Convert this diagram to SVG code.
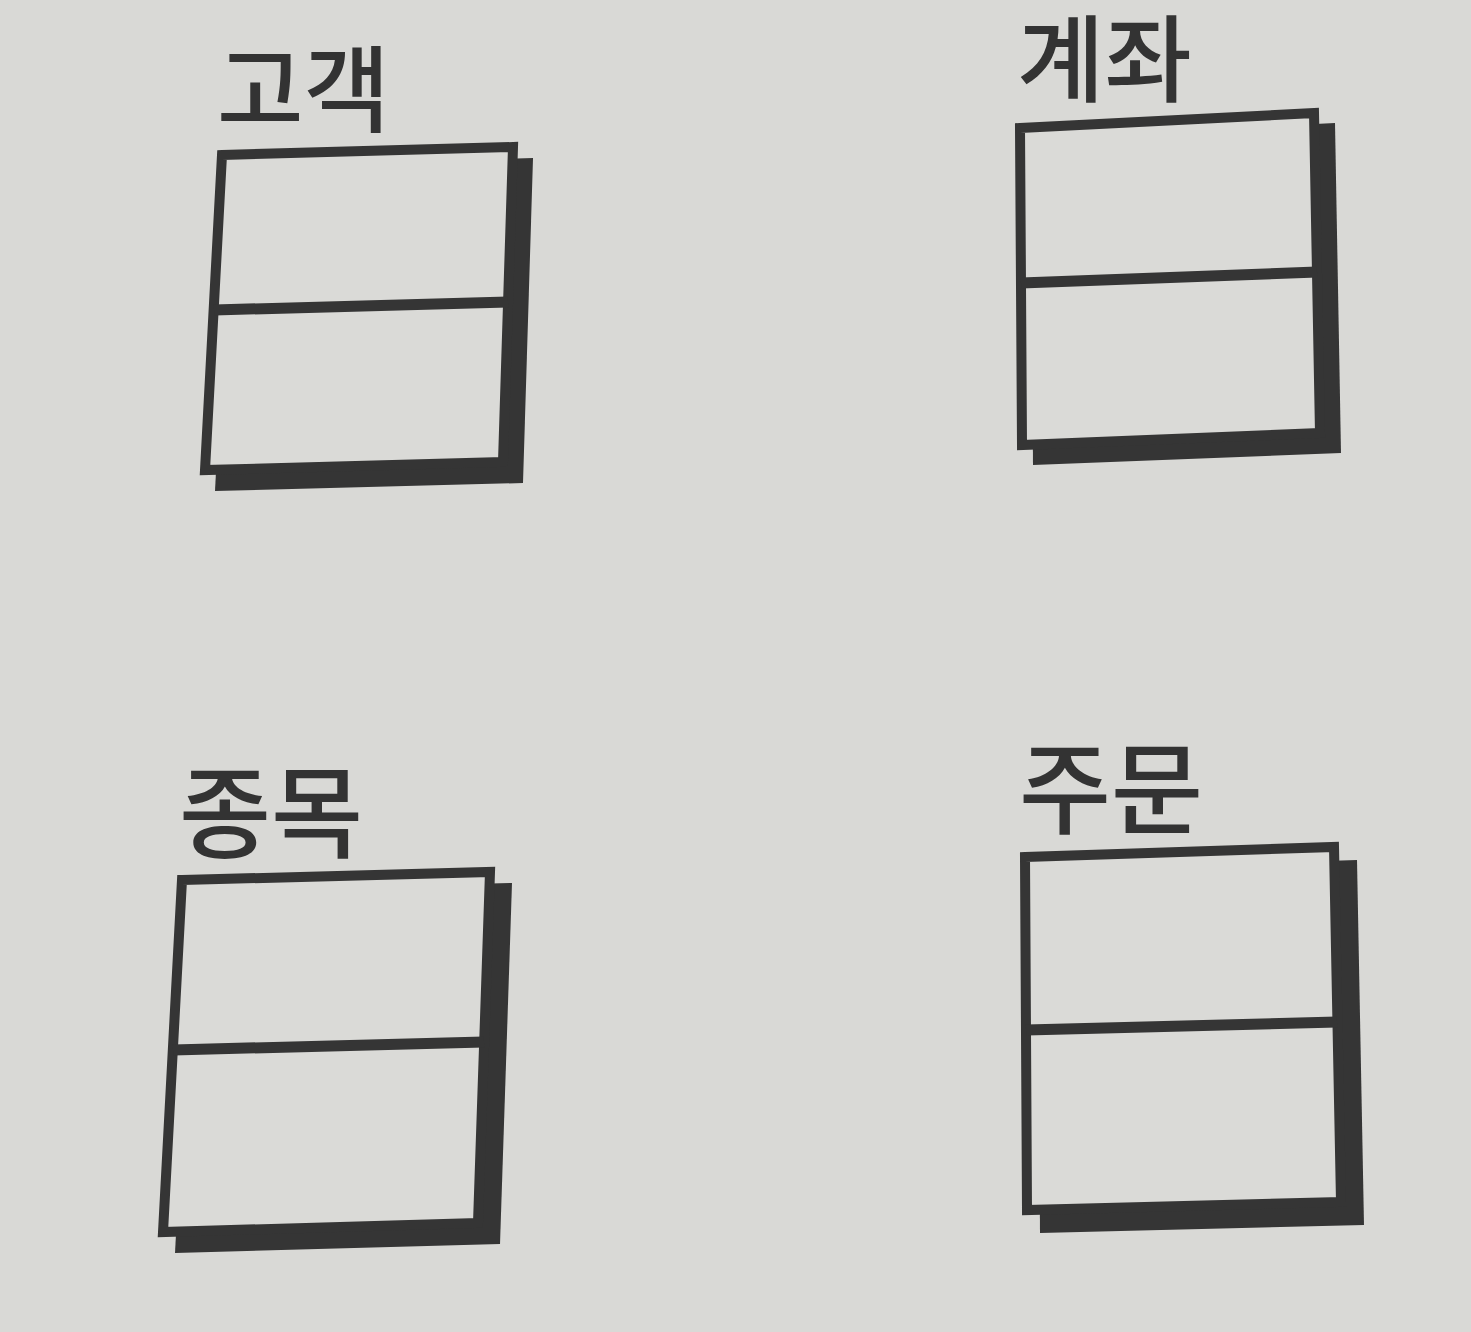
<svg xmlns="http://www.w3.org/2000/svg" width="1471" height="1332" viewBox="0 0 1471 1332">
  <style>
    .bg { fill: #d9d9d6; }
    .shadow { fill: #353535; }
    .box { fill: #dadad7; stroke: #353535; stroke-width: 10; stroke-linejoin: miter; }
    .div { stroke: #353535; stroke-width: 11; fill: none; }
    .label { font-family: "Noto Sans CJK KR", "Noto Sans", sans-serif; font-weight: 500; fill: #333333; }
  </style>
  <rect class="bg" x="0" y="0" width="1471" height="1332"/>

  <g id="node-customer">
    <polygon class="shadow" points="232,166 533,158 523,483 215,491"/>
    <polygon class="box" points="222,155 513,147 503,462 205,470"/>
    <line class="div" x1="214" y1="310" x2="508" y2="302"/>
    <text class="label" x="217" y="125" font-size="94">고객</text>
  </g>

  <g id="node-account">
    <polygon class="shadow" points="1031,138 1335,123 1341,453 1033,465"/>
    <polygon class="box" points="1020,128 1314,113 1320,433 1022,445"/>
    <line class="div" x1="1021" y1="283" x2="1317" y2="272"/>
    <text class="label" x="1017" y="95" font-size="95">계좌</text>
  </g>

  <g id="node-item">
    <polygon class="shadow" points="194,891 512,883 500,1244 175,1253"/>
    <polygon class="box" points="182,880 490,872 478,1223 163,1232"/>
    <line class="div" x1="173" y1="1050" x2="484" y2="1042"/>
    <text class="label" x="179" y="850" font-size="100">종목</text>
  </g>

  <g id="node-order">
    <polygon class="shadow" points="1038,870 1357,860 1364,1225 1040,1233"/>
    <polygon class="box" points="1025,857 1334,847 1341,1202 1027,1210"/>
    <line class="div" x1="1026" y1="1030" x2="1337" y2="1022"/>
    <text class="label" x="1019" y="826" font-size="100">주문</text>
  </g>

  <g id="connectors"></g>
</svg>
